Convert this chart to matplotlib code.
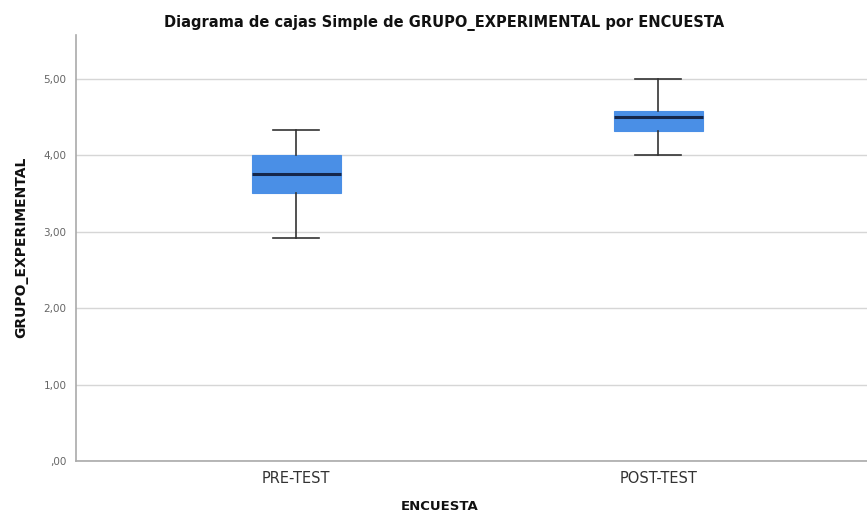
import matplotlib.pyplot as plt

# Values
categories = ['PRE-TEST', 'POST-TEST']
whisker_low = [2.92, 4.00]
q1 = [3.50, 4.31]
median = [3.75, 4.50]
q3 = [4.00, 4.58]
whisker_high = [4.33, 5.00]
y_ticks = [0, 1, 2, 3, 4, 5]
y_tick_labels = [',00', '1,00', '2,00', '3,00', '4,00', '5,00']

box_color = '#4a8fe6'
median_color = '#15264a'

fig = plt.figure(figsize=(8.67, 5.16), dpi=100)
ax = fig.add_axes([0.0877, 0.1066, 0.9123, 0.8256])

stats = []
for i, name in enumerate(categories):
    stats.append({
        'label': name,
        'whislo': whisker_low[i],
        'q1': q1[i],
        'med': median[i],
        'q3': q3[i],
        'whishi': whisker_high[i],
        'fliers': [],
    })

positions = list(range(1, len(categories) + 1))
ax.bxp(
    stats,
    positions=positions,
    widths=0.246,
    patch_artist=True,
    showfliers=False,
    boxprops=dict(facecolor=box_color, edgecolor=box_color, linewidth=0.8),
    medianprops=dict(color=median_color, linewidth=2.2),
    whiskerprops=dict(color='#333333', linewidth=1.2),
    capprops=dict(color='#333333', linewidth=1.2),
    capwidths=0.127,
    zorder=3,
)

ax.set_xlim(0.392, 2.577)
ax.set_ylim(0, 5.57)
ax.set_yticks(y_ticks)
ax.set_yticklabels(y_tick_labels, fontsize=7.5, color='#666666')
ax.set_xticks(positions)
ax.set_xticklabels(categories, fontsize=10.5, color='#333333')
ax.tick_params(axis='both', length=0)
ax.tick_params(axis='x', pad=7)
ax.tick_params(axis='y', pad=7)

ax.yaxis.grid(True, color='#d6d6d6', linewidth=1.0, zorder=0)
ax.set_axisbelow(True)
for side in ['top', 'right']:
    ax.spines[side].set_visible(False)
for side in ['left', 'bottom']:
    ax.spines[side].set_color('#aaaaaa')
    ax.spines[side].set_linewidth(1.2)

fig.text(0.512, 0.955, 'Diagrama de cajas Simple de GRUPO_EXPERIMENTAL por ENCUESTA',
         ha='center', va='center', fontsize=10.5, fontweight='bold', color='#111111')
fig.text(0.507, 0.005, 'ENCUESTA', ha='center', va='bottom',
         fontsize=9.5, fontweight='bold', color='#111111')
fig.text(0.025, 0.52, 'GRUPO_EXPERIMENTAL', ha='center', va='center', rotation=90,
         fontsize=10, fontweight='bold', color='#111111')

fig.savefig('out.png', dpi=100)
